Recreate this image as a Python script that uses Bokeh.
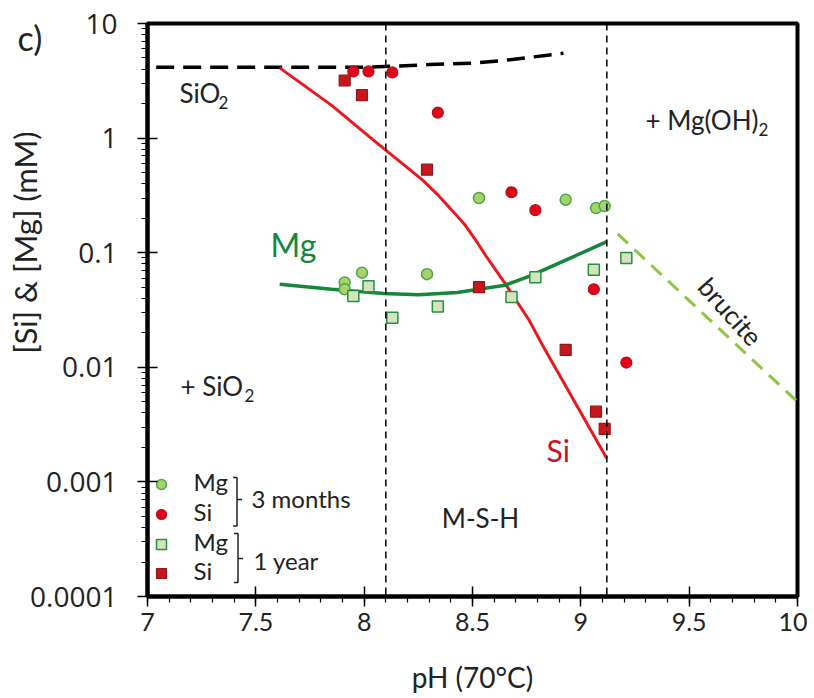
import math
from bokeh.plotting import figure
from bokeh.models import Label, Span, FixedTicker
from bokeh.embed import file_html
from bokeh.resources import INLINE

# ---------------- data ----------------
# 3 months
ph_mg_3m = [7.91, 7.91, 7.99, 8.29, 8.53, 8.93, 9.07, 9.11]
mg_3m = [0.055, 0.048, 0.067, 0.065, 0.30, 0.29, 0.245, 0.255]
ph_si_3m = [7.95, 8.02, 8.13, 8.34, 8.68, 8.79, 9.06, 9.21]
si_3m = [3.82, 3.82, 3.74, 1.67, 0.337, 0.235, 0.048, 0.011]
# 1 year
ph_mg_1y = [7.95, 8.02, 8.13, 8.34, 8.68, 8.79, 9.06, 9.21]
mg_1y = [0.042, 0.051, 0.027, 0.034, 0.041, 0.061, 0.071, 0.090]
ph_si_1y = [7.91, 7.99, 8.29, 8.53, 8.93, 9.07, 9.11]
si_1y = [3.18, 2.37, 0.53, 0.050, 0.0142, 0.0041, 0.0029]
# model curves
ph_si_model = [7.61, 7.85, 8.04, 8.27, 8.34, 8.46, 8.51, 8.56, 8.65, 8.76, 8.82, 9.12]
si_model = [4.1, 1.93, 0.97, 0.43, 0.32, 0.18, 0.133, 0.095, 0.054, 0.026, 0.016, 0.0016]
ph_mg_model = [7.61, 7.85, 8.09, 8.25, 8.43, 8.65, 8.77, 8.93, 9.12]
mg_model = [0.053, 0.048, 0.044, 0.043, 0.045, 0.052, 0.063, 0.086, 0.125]
ph_sio2 = [7.04, 8.0, 8.15, 8.3, 8.5, 8.65, 8.77, 8.92]
sio2 = [4.15, 4.15, 4.25, 4.38, 4.5, 4.77, 5.08, 5.5]
ph_brucite = [9.17, 10.0]
brucite = [0.146, 0.005]
ph_boundaries = [8.1, 9.12]

x_ticks = [7, 7.5, 8, 8.5, 9, 9.5, 10]
x_tick_labels = ["7", "7.5", "8", "8.5", "9", "9.5", "10"]
y_ticks = [0.0001, 0.001, 0.01, 0.1, 1, 10]
y_tick_labels = ["0.0001", "0.001", "0.01", "0.1", "1", "10"]

# ---------------- layout ----------------
FL, FT, FW, FH = 147, 23, 650, 573      # frame position inside figure
XR = (7, 10)
YR = (0.0001, 10)
PAGE = 0


def X(px):  # page pixel -> pH (for annotation placement)
    return XR[0] + (px - PAGE - FL) * (XR[1] - XR[0]) / FW


def Y(py):  # page pixel -> concentration (log axis)
    l0, l1 = math.log10(YR[0]), math.log10(YR[1])
    return 10 ** (l1 - (py - PAGE - FT) * (l1 - l0) / FH)


p = figure(frame_width=FW, frame_height=FH, x_range=XR, y_range=YR,
           y_axis_type="log", output_backend="svg", toolbar_location=None,
           min_border_left=FL, min_border_top=FT, min_border_right=10,
           min_border_bottom=98)
p.xgrid.visible = False
p.ygrid.visible = False
p.outline_line_color = "black"
p.outline_line_width = 4
p.background_fill_color = "white"
p.border_fill_color = "white"

# panel letter "c)" as the (shifted) title
p.title.text = "c)"
p.title.align = "left"
p.title.offset = 17 - FL
p.title.standoff = -69
p.title.text_font = "Lato"
p.title.text_font_style = "normal"
p.title.text_font_size = "34px"
p.title.text_color = "#222222"

# axes
p.xaxis.ticker = FixedTicker(ticks=x_ticks, minor_ticks=[round(7 + 0.1 * i, 1) for i in range(31)])
p.xaxis.major_label_overrides = {t: l for t, l in zip(x_ticks, x_tick_labels)}
p.yaxis.ticker = FixedTicker(ticks=y_ticks,
                             minor_ticks=[m * 10.0 ** e for e in range(-4, 1) for m in range(2, 10)])
p.yaxis.major_label_overrides = {t: l for t, l in zip(y_ticks, y_tick_labels)}
for ax in (p.xaxis, p.yaxis):
    ax.axis_line_width = 4
    ax.axis_line_color = "black"
    ax.major_tick_line_color = "black"
    ax.minor_tick_line_color = "black"
    ax.major_tick_line_width = 1.5
    ax.minor_tick_line_width = 1.2
    ax.major_tick_in = 10
    ax.major_tick_out = 10
    ax.minor_tick_in = 0
    ax.minor_tick_out = 6
    ax.major_label_text_color = "#222222"
p.xaxis.major_label_text_font = "Lato"
p.xaxis.major_label_text_font_size = "25px"
p.xaxis.major_label_standoff = 6
p.xaxis.axis_label = "pH (70°C)"
p.xaxis.axis_label_text_font = "Lato"
p.xaxis.axis_label_text_font_style = "normal"
p.xaxis.axis_label_text_font_size = "28px"
p.xaxis.axis_label_text_color = "#222222"
p.xaxis.axis_label_standoff = 26
p.yaxis.major_label_text_font = "Open Sans"
p.yaxis.major_label_text_font_size = "28px"
p.yaxis.major_label_standoff = 20
# y title, shifted toward the top of the axis with leading no-break spaces
p.yaxis.axis_label = "\u00a0" * 17 + "[Si] & [Mg] (mM)"
p.yaxis.axis_label_text_font = "Lato"
p.yaxis.axis_label_text_font_style = "normal"
p.yaxis.axis_label_text_font_size = "31px"
p.yaxis.axis_label_text_color = "#222222"
p.yaxis.axis_label_standoff = -17

# phase boundaries
for b in ph_boundaries:
    p.add_layout(Span(location=b, dimension="height", line_color="black",
                      line_width=1.5, line_dash="7 5"))

# curves
p.line(ph_sio2, sio2, line_color="black", line_width=3.5, line_dash="18 9")
p.line(ph_brucite, brucite, line_color="#8DC63F", line_width=3, line_dash="14 9")
p.line(ph_si_model, si_model, line_color="#E8191F", line_width=3)
p.line(ph_mg_model, mg_model, line_color="#15873A", line_width=3.5)

# points
GC = dict(fill_color="#A8D26A", line_color="#4CA64C", line_width=1.5)
RC = dict(fill_color="#E2001A", line_color="#B0101A", line_width=1.2)
GS = dict(fill_color="#D6E3BF", line_color="#27903F", line_width=1.5)
RS = dict(fill_color="#C8161D", line_color="#8E1B1B", line_width=1.2)
p.scatter(ph_mg_3m, mg_3m, marker="circle", size=11, **GC)
p.scatter(ph_si_3m, si_3m, marker="circle", size=11, **RC)
p.scatter(ph_mg_1y, mg_1y, marker="square", size=11, **GS)
p.scatter(ph_si_1y, si_1y, marker="square", size=11, **RS)


def lab(px, py, text, size, color="#222222", align="left", baseline="middle",
        angle=0.0, font="Lato"):
    p.add_layout(Label(x=X(px), y=Y(py), text=text, text_font=font,
                       text_font_size=f"{size}px", text_color=color,
                       text_align=align, text_baseline=baseline, angle=angle))


# legend (drawn manually)
leg_y = [484, 514, 544, 573]
p.scatter([X(161)], [Y(leg_y[0])], marker="circle", size=10, **GC)
p.scatter([X(161)], [Y(leg_y[1])], marker="circle", size=10, **RC)
p.scatter([X(161)], [Y(leg_y[2])], marker="square", size=10, **GS)
p.scatter([X(161)], [Y(leg_y[3])], marker="square", size=10, **RS)
for ly, t in zip(leg_y, ["Mg", "Si", "Mg", "Si"]):
    lab(193, ly - 3, t, 24)


def brace(x, y0, y1, ym, cap=4, tip=5):
    xs = [[X(x - cap), X(x), X(x), X(x - cap)], [X(x), X(x + tip)]]
    ys = [[Y(y0), Y(y0), Y(y1), Y(y1)], [Y(ym), Y(ym)]]
    return xs, ys


b1 = brace(236.5, 477, 525.5, 499)
b2 = brace(237.5, 533, 582, 558)
p.multi_line(b1[0] + b2[0], b1[1] + b2[1], line_color="#222222", line_width=1.5)
lab(251, 498, "3 months", 24)
lab(253, 560, "1 year", 24)

lab(179, 92, "SiO", 26)
lab(218, 102, "2", 17)
lab(645, 119, "+ Mg(OH)", 26)
lab(758, 129, "2", 17)
lab(270, 244, "Mg", 32, color="#15873A")
lab(730, 311, "brucite", 26, align="center", angle=-0.84)
lab(180, 385, "+ SiO", 26)
lab(244, 395, "2", 17)
lab(546, 449, "Si", 30, color="#CC1020")
lab(480, 517, "M-S-H", 26, align="center")

open("out.html", "w").write(file_html(p, INLINE))
